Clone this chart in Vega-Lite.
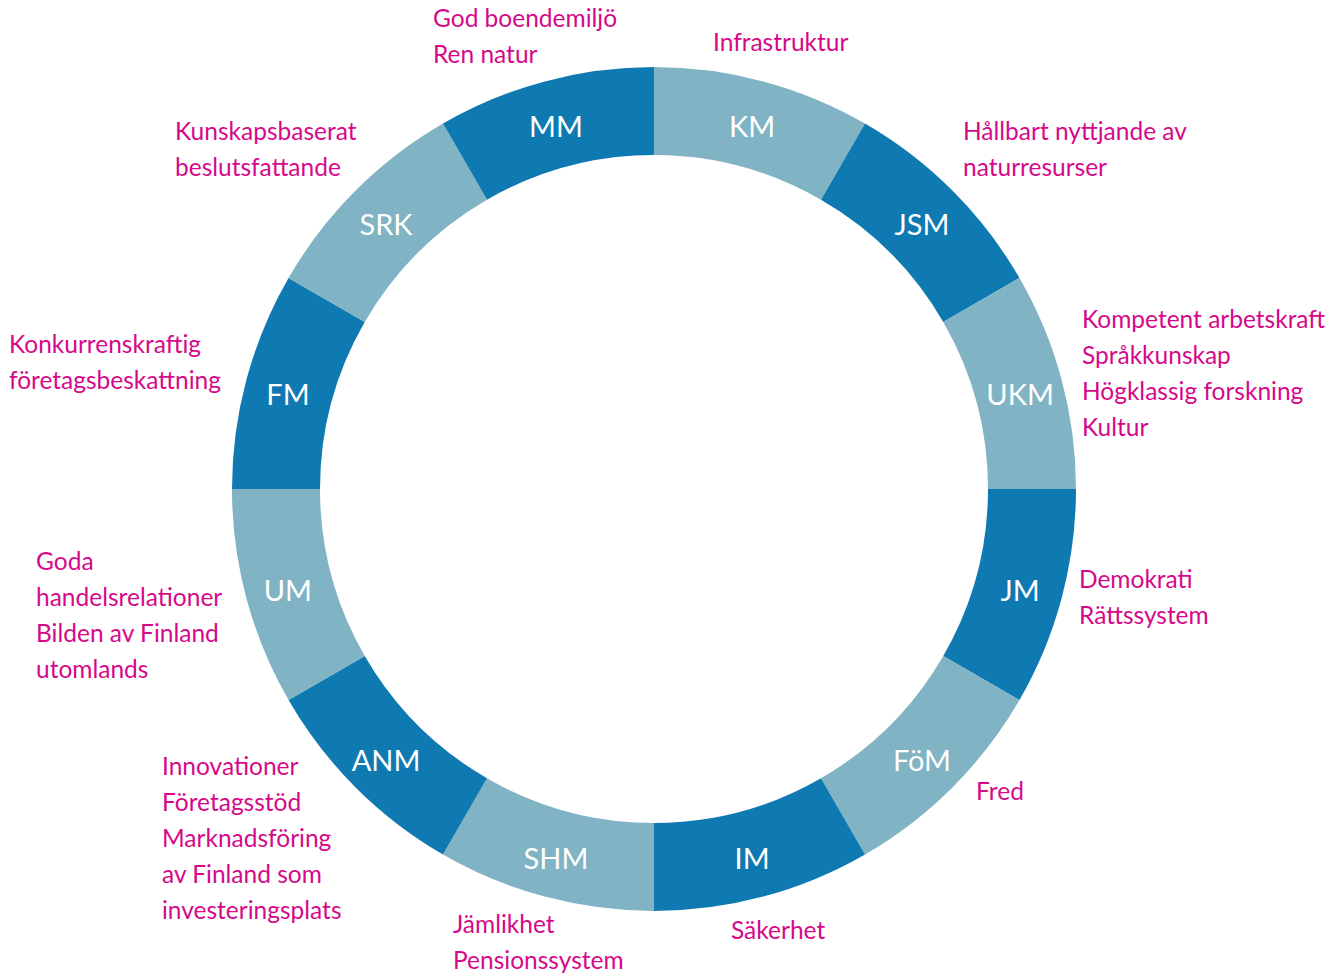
{
  "$schema": "https://vega.github.io/schema/vega-lite/v6.json",
  "width": 1308,
  "height": 978,
  "autosize": "none",
  "padding": {"left": 0, "right": 36, "top": 0, "bottom": 0},
  "background": "white",
  "config": {"view": {"stroke": null}},
  "layer": [
    {
      "data": {"name": "segments", "values": [
        {"order": 1, "code": "KM", "tone": "light", "value": 1},
        {"order": 2, "code": "JSM", "tone": "dark", "value": 1},
        {"order": 3, "code": "UKM", "tone": "light", "value": 1},
        {"order": 4, "code": "JM", "tone": "dark", "value": 1},
        {"order": 5, "code": "FöM", "tone": "light", "value": 1},
        {"order": 6, "code": "IM", "tone": "dark", "value": 1},
        {"order": 7, "code": "SHM", "tone": "light", "value": 1},
        {"order": 8, "code": "ANM", "tone": "dark", "value": 1},
        {"order": 9, "code": "UM", "tone": "light", "value": 1},
        {"order": 10, "code": "FM", "tone": "dark", "value": 1},
        {"order": 11, "code": "SRK", "tone": "light", "value": 1},
        {"order": 12, "code": "MM", "tone": "dark", "value": 1}
      ]},
      "encoding": {
        "theta": {"field": "value", "type": "quantitative", "stack": true},
        "order": {"field": "order", "type": "quantitative"}
      },
      "layer": [
        {
          "mark": {"type": "arc", "outerRadius": 422, "innerRadius": 334},
          "encoding": {
            "color": {"field": "tone", "type": "nominal", "legend": null,
              "scale": {"domain": ["light", "dark"], "range": ["#80b3c3", "#0f79b1"]}}
          }
        },
        {
          "mark": {"type": "text", "radius": 379, "dy": 5, "font": "Lato", "fontSize": 29, "color": "white", "align": "center", "baseline": "middle"},
          "encoding": {"text": {"field": "code"}}
        }
      ]
    },
    {
      "data": {"name": "topics", "values": [
        {"angle": 334.77, "dist": 518.5, "label": ["God boendemiljö", "Ren natur"]},
        {"angle": 7.55, "dist": 448.9, "label": ["Infrastruktur"]},
        {"angle": 40.96, "dist": 471.4, "label": ["Hållbart nyttjande av", "naturresurser"]},
        {"angle": 68.57, "dist": 459.8, "label": ["Kompetent arbetskraft", "Språkkunskap", "Högklassig forskning", "Kultur"]},
        {"angle": 102.21, "dist": 434.8, "label": ["Demokrati", "Rättssystem"]},
        {"angle": 133.35, "dist": 442.8, "label": ["Fred"]},
        {"angle": 170.14, "dist": 449.6, "label": ["Säkerhet"]},
        {"angle": 204.7, "dist": 481.0, "label": ["Jämlikhet", "Pensionssystem"]},
        {"angle": 240.45, "dist": 565.6, "label": ["Innovationer", "Företagsstöd", "Marknadsföring", "av Finland som", "investeringsplats"]},
        {"angle": 263.17, "dist": 622.4, "label": ["Goda", "handelsrelationer", "Bilden av Finland", "utomlands"]},
        {"angle": 282.5, "dist": 660.7, "label": ["Konkurrenskraftig", "företagsbeskattning"]},
        {"angle": 306.62, "dist": 596.8, "label": ["Kunskapsbaserat", "beslutsfattande"]}
      ]},
      "mark": {"type": "text", "font": "Lato", "fontSize": 24.5, "color": "#d5098a", "align": "left", "baseline": "middle", "lineHeight": 36},
      "encoding": {
        "theta": {"field": "angle", "type": "quantitative", "scale": {"domain": [0, 360], "range": [0, 6.283185307]}},
        "radius": {"field": "dist", "type": "quantitative", "scale": {"type": "linear", "domain": [0, 1000], "range": [0, 1000], "zero": true}},
        "text": {"field": "label"}
      }
    }
  ],
  "resolve": {"scale": {"theta": "independent", "radius": "independent"}}
}
